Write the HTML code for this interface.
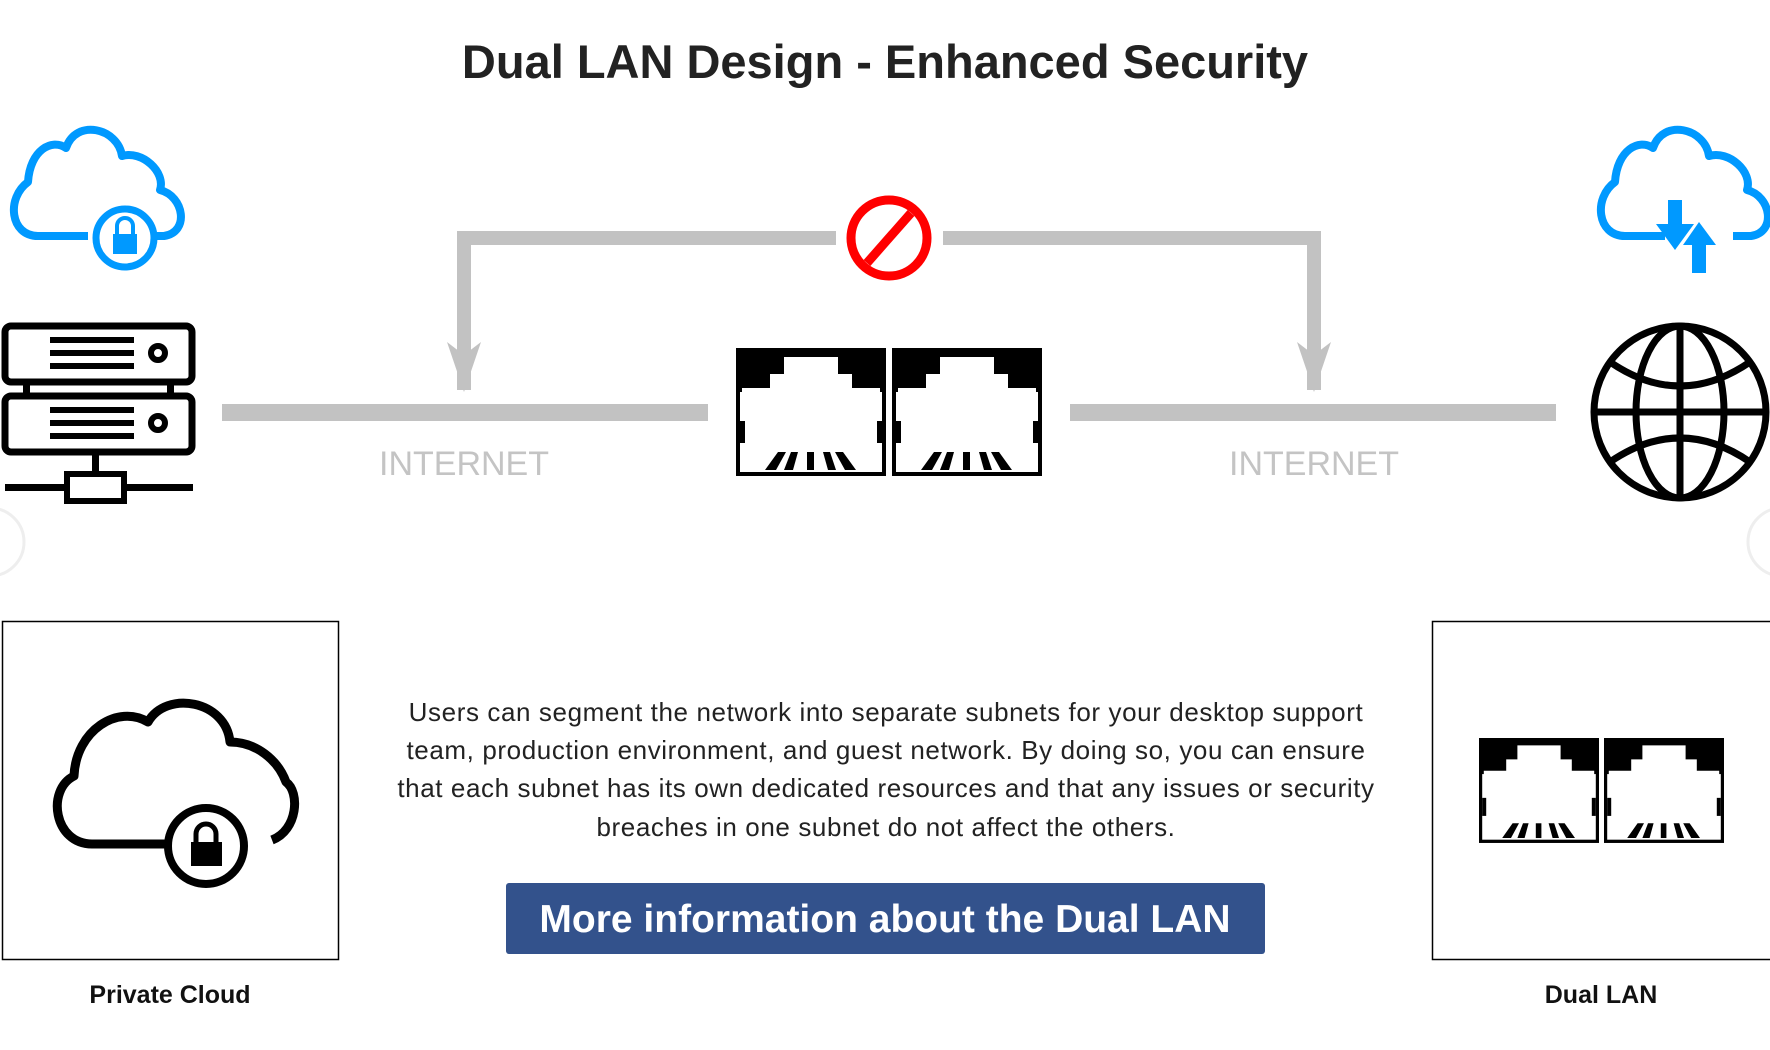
<!DOCTYPE html>
<html><head><meta charset="utf-8"><style>
html,body{margin:0;padding:0;background:#fff;}
body{width:1770px;height:1050px;overflow:hidden;position:relative;font-family:"Liberation Sans",sans-serif;}
svg{position:absolute;left:0;top:0;}
</style></head><body>
<svg width="1770" height="1050" viewBox="0 0 1770 1050" xmlns="http://www.w3.org/2000/svg">
<defs>
<g id="port">
  <rect x="2" y="2" width="146" height="124" fill="#fff" stroke="#000" stroke-width="4"/>
  <rect x="2" y="2" width="146" height="42" fill="#000"/>
  <polygon points="6,40 34,40 34,26 48,26 48,9 102,9 102,26 116,26 116,40 144,40 144,122 6,122" fill="#fff"/>
  <rect x="4" y="73" width="5" height="22" fill="#000"/>
  <rect x="141" y="73" width="5" height="22" fill="#000"/>
  <polygon points="29,122 42,104 50,104 40,122" fill="#000"/>
  <polygon points="48,122 55,104 62,104 57,122" fill="#000"/>
  <polygon points="71,122 71,104 78,104 78,122" fill="#000"/>
  <polygon points="92,122 87,104 94,104 100,122" fill="#000"/>
  <polygon points="109,122 99,104 107,104 120,122" fill="#000"/>
</g>
</defs>

<text x="885" y="78" text-anchor="middle" font-family="Liberation Sans" font-weight="bold" font-size="47" fill="#222">Dual LAN Design - Enhanced Security</text>

<!-- left blue cloud with lock -->
<path d="M88,236 H38 C10,236 6,198 28,182 C30,150 52,138 66,148 C76,118 118,128 122,156 C142,150 166,172 160,190 C184,196 190,232 164,236 H150" fill="none" stroke="#0099ff" stroke-width="8" stroke-linejoin="round"/>
<circle cx="125" cy="238" r="29" fill="#fff" stroke="#0099ff" stroke-width="7"/>
<rect x="113" y="234" width="24" height="20" fill="#0099ff"/>
<path d="M117,235 V226 a8,8 0 0 1 16,0 V235" fill="none" stroke="#0099ff" stroke-width="4"/>

<!-- server -->
<rect x="5" y="326" width="187" height="56" rx="6" fill="none" stroke="#000" stroke-width="7"/>
<rect x="5" y="396" width="187" height="56" rx="6" fill="none" stroke="#000" stroke-width="7"/>
<rect x="50" y="337" width="84" height="6" fill="#000"/><rect x="50" y="350" width="84" height="6" fill="#000"/><rect x="50" y="363" width="84" height="6" fill="#000"/>
<rect x="50" y="407" width="84" height="6" fill="#000"/><rect x="50" y="420" width="84" height="6" fill="#000"/><rect x="50" y="433" width="84" height="6" fill="#000"/>
<circle cx="158" cy="353" r="7" fill="none" stroke="#000" stroke-width="6"/>
<circle cx="158" cy="423" r="7" fill="none" stroke="#000" stroke-width="6"/>
<rect x="23" y="382" width="7" height="14" fill="#000"/><rect x="167" y="382" width="7" height="14" fill="#000"/>
<rect x="92" y="452" width="7" height="22" fill="#000"/>
<rect x="5" y="484" width="188" height="7" fill="#000"/>
<rect x="67" y="474" width="57" height="27" fill="#fff" stroke="#000" stroke-width="6"/>

<!-- left connectors -->
<rect x="222" y="404" width="486" height="17" fill="#c2c2c2"/>
<path d="M836,238 H464 V390" fill="none" stroke="#c2c2c2" stroke-width="14"/>
<polygon points="447,342 464,355 481,342 464,392" fill="#c2c2c2"/>
<text x="464" y="475" text-anchor="middle" font-size="34" fill="#c4c4c4">INTERNET</text>

<!-- prohibition -->
<circle cx="889" cy="238" r="38" fill="#fff" stroke="#ff0000" stroke-width="9"/>
<line x1="867" y1="263" x2="911" y2="213" stroke="#ff0000" stroke-width="9"/>

<!-- right connectors -->
<path d="M943,238 H1314 V390" fill="none" stroke="#c2c2c2" stroke-width="14"/>
<polygon points="1297,342 1314,355 1331,342 1314,392" fill="#c2c2c2"/>
<rect x="1070" y="404" width="486" height="17" fill="#c2c2c2"/>
<text x="1314" y="475" text-anchor="middle" font-size="34" fill="#c4c4c4">INTERNET</text>

<!-- center ports -->
<use href="#port" transform="translate(736,348)"/>
<use href="#port" transform="translate(892,348)"/>

<!-- right blue cloud with arrows -->
<path d="M1665,236 H1625 C1597,236 1593,198 1615,182 C1617,150 1639,138 1653,148 C1663,118 1705,128 1709,156 C1729,150 1753,172 1747,190 C1771,196 1777,232 1751,236 H1733" fill="none" stroke="#0099ff" stroke-width="8" stroke-linejoin="round"/>
<rect x="1668" y="200" width="14" height="26" fill="#0099ff"/>
<polygon points="1656,224 1694,224 1675,250" fill="#0099ff"/>
<polygon points="1683,245 1716,245 1699,222" fill="#0099ff"/>
<rect x="1692" y="243" width="14" height="30" fill="#0099ff"/>

<!-- globe -->
<g fill="none" stroke="#000" stroke-width="7">
<ellipse cx="1680" cy="412" rx="86" ry="86"/>
<ellipse cx="1680" cy="412" rx="44" ry="86"/>
<line x1="1680" y1="326" x2="1680" y2="498"/>
<line x1="1594" y1="412" x2="1766" y2="412"/>
<path d="M1610,362 Q1680,410 1750,362"/>
<path d="M1610,462 Q1680,414 1750,462"/>
</g>

<!-- edge half circles -->
<circle cx="-10" cy="542" r="34" fill="#fff" stroke="#eee" stroke-width="3"/>
<circle cx="1782" cy="542" r="34" fill="#fff" stroke="#eee" stroke-width="3"/>

<!-- left box -->
<rect x="2.5" y="621.5" width="336" height="338" fill="#fff" stroke="#000" stroke-width="1.5"/>
<path d="M172,844 H92 C54,844 46,790 74,776 C76,730 118,704 148,722 C166,690 226,700 230,742 C256,742 278,760 286,782 C300,792 298,830 272,840" fill="none" stroke="#000" stroke-width="9" stroke-linejoin="round"/>
<circle cx="206" cy="846" r="38" fill="#fff" stroke="#000" stroke-width="8"/>
<rect x="191" y="842" width="31" height="24" fill="#000"/>
<path d="M196,843 V834 a10,10 0 0 1 20,0 V843" fill="none" stroke="#000" stroke-width="5"/>
<text x="170" y="1003" text-anchor="middle" font-weight="bold" font-size="25" fill="#111">Private Cloud</text>

<!-- paragraph -->
<g font-size="26" letter-spacing="0.6" fill="#222" text-anchor="middle">
<text x="886" y="721">Users can segment the network into separate subnets for your desktop support</text>
<text x="886" y="759">team, production environment, and guest network. By doing so, you can ensure</text>
<text x="886" y="797">that each subnet has its own dedicated resources and that any issues or security</text>
<text x="886" y="836">breaches in one subnet do not affect the others.</text>
</g>

<!-- button -->
<rect x="506" y="883" width="759" height="71" rx="3" fill="#33528c"/>
<text x="885" y="932" text-anchor="middle" font-weight="bold" font-size="39" fill="#fff">More information about the Dual LAN</text>

<!-- right box -->
<rect x="1432.5" y="621.5" width="340" height="338" fill="#fff" stroke="#000" stroke-width="1.5"/>
<use href="#port" transform="translate(1479,738) scale(0.8,0.82)"/>
<use href="#port" transform="translate(1604,738) scale(0.8,0.82)"/>
<text x="1601" y="1003" text-anchor="middle" font-weight="bold" font-size="25" fill="#111">Dual LAN</text>
</svg>
</body></html>
